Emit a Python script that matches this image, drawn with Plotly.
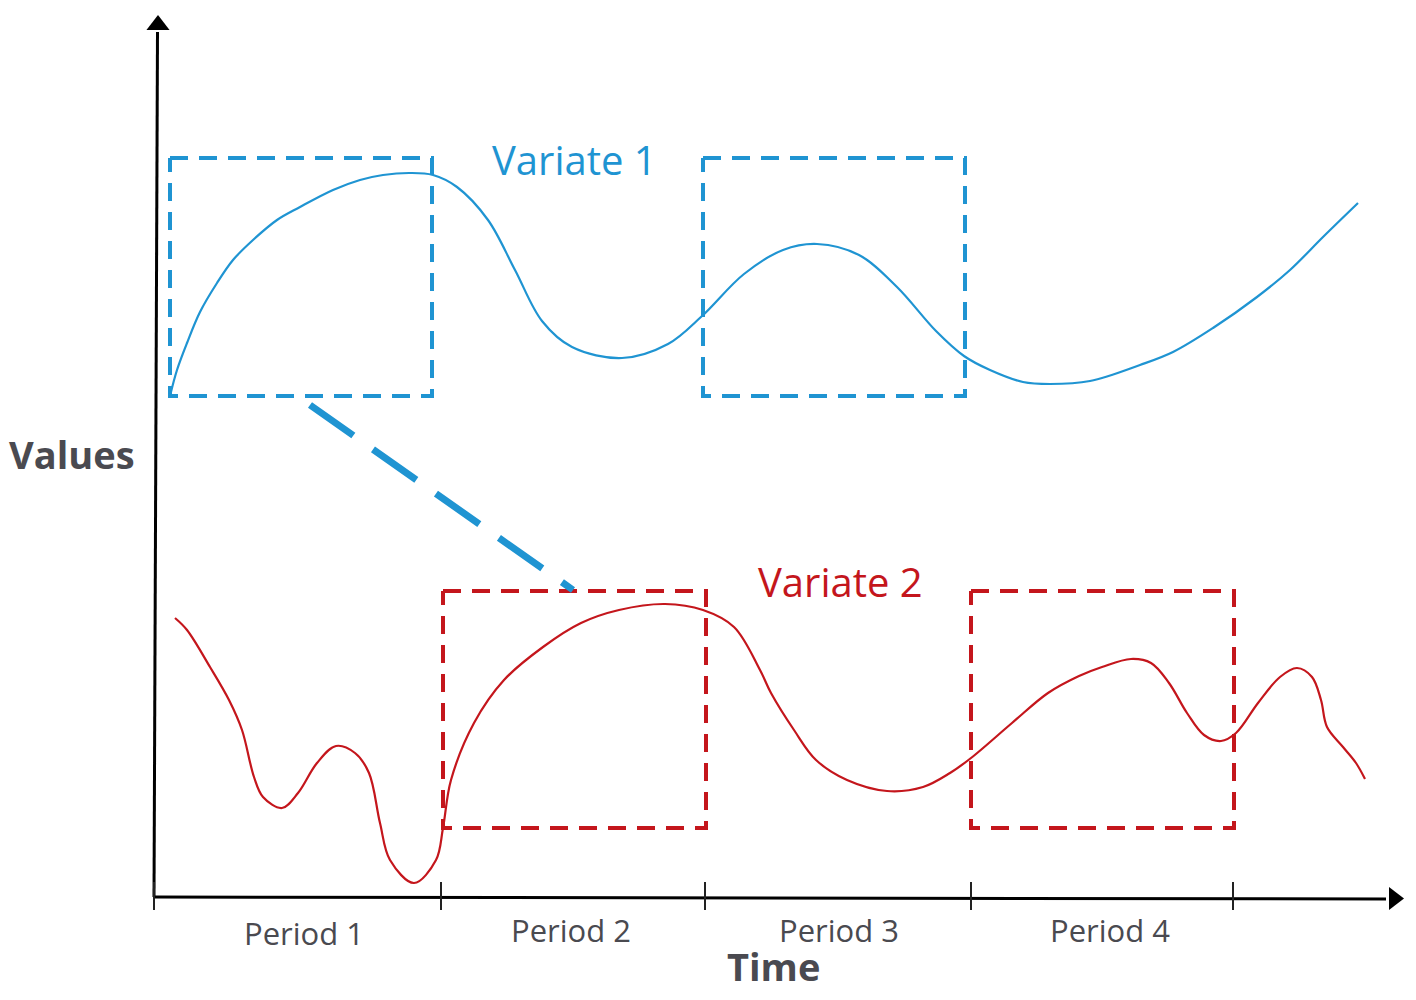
import plotly.graph_objects as go

# canvas is in picture pixels: x to the right, y downwards.
# the page body has an 8px margin, so the figure sits at (8, 8)
W, H = 1400, 984
OFF = 8

BLUE = "#1f94d2"
RED = "#c4161c"
GREY = "#4a4a50"

# variate 1 (blue curve)
blue_x = [170, 177, 187, 200, 217, 233, 253, 277, 300, 333, 360, 383, 410, 433, 457,
          488, 515, 542, 572, 622, 668, 702, 744, 783, 817, 859, 897, 936, 964, 990,
          1023, 1050, 1090, 1140, 1173, 1213, 1257, 1290, 1323, 1358]
blue_y = [396, 370, 343, 312, 283, 260, 240, 220, 207, 190, 180, 175, 173, 175, 187,
          220, 270, 321, 347, 358, 344, 316, 274, 250, 244, 255, 287, 331, 356, 370,
          382, 384, 381, 365, 352, 328, 297, 270, 237, 203]

# variate 2 (red curve)
red_x = [175, 187, 210, 229, 242, 254, 263, 282, 298, 317, 336, 355, 369, 380, 390,
         414, 436, 443, 451, 474, 504, 543, 581, 619, 665, 703, 734, 760, 771, 794,
         816, 847, 887, 923, 950, 971, 1012, 1048, 1079, 1102, 1131, 1151, 1169, 1187,
         1204, 1221, 1236, 1258, 1280, 1297, 1312, 1321, 1327, 1343, 1356, 1365]
red_y = [618, 630, 667, 700, 730, 777, 797, 808, 793, 763, 746, 753, 773, 823, 860,
         883, 860, 828, 780, 723, 680, 647, 623, 610, 604, 610, 627, 670, 693, 730,
         760, 780, 791, 787, 773, 758, 723, 693, 676, 667, 659, 663, 683, 713,
         735, 741, 733, 703, 677, 668, 677, 700, 727, 747, 763, 779]

# dashed windows: (x0, x1, y0, y1)
blue_boxes = [(170, 432, 158, 396), (703, 965, 158, 396)]
red_boxes = [(443, 706, 591, 828), (971, 1234, 591, 828)]
link_x = [310, 573]
link_y = [405, 590]

# time axis
tick_x = [154, 441, 705, 971, 1233]
period_labels = ["Period 1", "Period 2", "Period 3", "Period 4"]
period_label_x = [304, 571, 839, 1110]
period_label_y = [933, 930, 930, 930]

fig = go.Figure()

# axes
fig.add_trace(go.Scatter(x=[154, 157.5], y=[897, 32], mode="lines",
                         line=dict(color="black", width=3), hoverinfo="skip"))
fig.add_trace(go.Scatter(x=[154, 1386], y=[897, 899], mode="lines",
                         line=dict(color="black", width=3), hoverinfo="skip"))
fig.add_trace(go.Scatter(x=[158], y=[25], mode="markers",
                         marker=dict(symbol="triangle-up", size=20, color="black"),
                         hoverinfo="skip"))
fig.add_trace(go.Scatter(x=[1394], y=[898.5], mode="markers",
                         marker=dict(symbol="triangle-right", size=20, color="black"),
                         hoverinfo="skip"))
for tx in tick_x:
    fig.add_trace(go.Scatter(x=[tx, tx], y=[882, 910], mode="lines",
                             line=dict(color="#222222", width=2), hoverinfo="skip"))

# windows
def box(b, color):
    x0, x1, y0, y1 = b
    return go.Scatter(x=[x0, x1, x1, x0, x0], y=[y0, y0, y1, y1, y0], mode="lines",
                      line=dict(color=color, width=4, dash="18px,11px"),
                      hoverinfo="skip")

for b in blue_boxes:
    fig.add_trace(box(b, BLUE))
for b in red_boxes:
    fig.add_trace(box(b, RED))

fig.add_trace(go.Scatter(x=link_x, y=link_y, mode="lines",
                         line=dict(color=BLUE, width=7, dash="53px,24px"),
                         hoverinfo="skip"))

# series
fig.add_trace(go.Scatter(x=blue_x, y=blue_y, mode="lines", line_shape="spline",
                         line=dict(color=BLUE, width=2.2, smoothing=1.0),
                         hoverinfo="skip"))
fig.add_trace(go.Scatter(x=red_x, y=red_y, mode="lines", line_shape="spline",
                         line=dict(color=RED, width=2.2, smoothing=1.0),
                         hoverinfo="skip"))

# text
FONT = "Open Sans"
ann = [
    dict(x=574, y=159, text="Variate 1", font=dict(size=40, color=BLUE, family=FONT)),
    dict(x=840, y=581, text="Variate 2", font=dict(size=40, color=RED, family=FONT)),
    dict(x=72, y=454, text="<b>Values</b>", font=dict(size=38, color=GREY, family=FONT)),
    dict(x=773, y=966, text="<b>Time</b>", font=dict(size=38, color=GREY, family=FONT)),
]
for lab, lx, ly in zip(period_labels, period_label_x, period_label_y):
    ann.append(dict(x=lx, y=ly, text=lab, font=dict(size=31, color=GREY, family=FONT)))
for a in ann:
    a.update(xref="x", yref="y", showarrow=False, xanchor="center", yanchor="middle")

fig.update_layout(
    width=W, height=H,
    margin=dict(l=0, r=0, t=0, b=0),
    paper_bgcolor="white", plot_bgcolor="white",
    showlegend=False,
    annotations=ann,
    xaxis=dict(range=[OFF, OFF + W], visible=False, fixedrange=True),
    yaxis=dict(range=[OFF + H, OFF], visible=False, fixedrange=True),
)

fig.write_html("out.html")
